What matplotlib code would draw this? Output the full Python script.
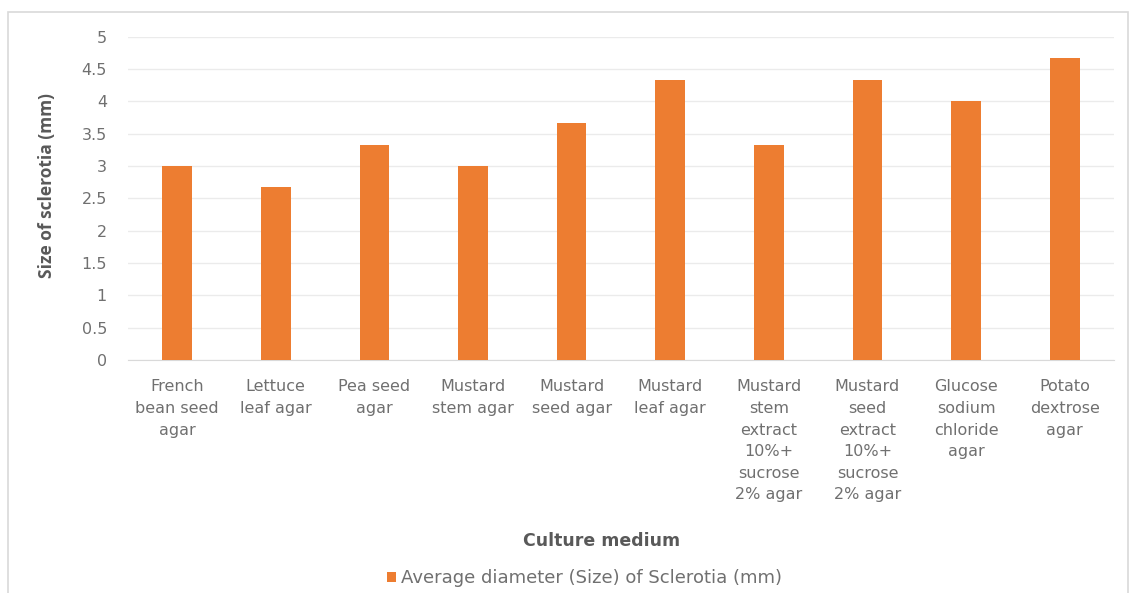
import numpy as np
import matplotlib.pyplot as plt
from matplotlib.patches import Rectangle

plt.rcParams['font.family'] = ['DejaVu Sans']

media = ["French\nbean seed\nagar", "Lettuce\nleaf agar", "Pea seed\nagar",
         "Mustard\nstem agar", "Mustard\nseed agar", "Mustard\nleaf agar",
         "Mustard\nstem\nextract\n10%+\nsucrose\n2% agar",
         "Mustard\nseed\nextract\n10%+\nsucrose\n2% agar",
         "Glucose\nsodium\nchloride\nagar", "Potato\ndextrose\nagar"]
size_mm = [3.0, 2.67, 3.33, 3.0, 3.67, 4.33, 3.33, 4.33, 4.0, 4.67]
yticks = [0, 0.5, 1, 1.5, 2, 2.5, 3, 3.5, 4, 4.5, 5]

grey = '#707070'

fig = plt.figure(figsize=(11.31, 5.93), dpi=100)
fig.patches.append(Rectangle((0.007, -0.01), 0.99, 0.99, transform=fig.transFigure,
                             fill=False, edgecolor='#d9d9d9', linewidth=1.2))
ax = fig.add_axes([0.113, 0.393, 0.872, 0.545])

x = np.arange(len(media))
ax.bar(x, size_mm, width=0.3, color='#ED7D31', zorder=3,
       label='Average diameter (Size) of Sclerotia (mm)')
ax.set_xlim(-0.5, len(media) - 0.5)
ax.set_ylim(0, 5)
ax.set_yticks(yticks)
ax.set_yticklabels([f"{t:g}" for t in yticks])
ax.set_xticks(x)
ax.set_xticklabels(media, linespacing=1.55)
ax.grid(axis='y', color='#ebebeb', linewidth=1, zorder=0)
for s in ['top', 'right', 'left']:
    ax.spines[s].set_visible(False)
ax.spines['bottom'].set_color('#d9d9d9')
ax.tick_params(axis='both', length=0, colors=grey, labelsize=11.5)
ax.tick_params(axis='y', pad=15)
ax.tick_params(axis='x', pad=14)

ax.set_ylabel('Size of sclerotia (mm)', fontsize=12.5, fontweight='bold', color='#595959',
              family='Open Sans')
ax.yaxis.set_label_coords(-0.073, 0.54)
fig.text(0.532, 0.087, 'Culture medium', ha='center', va='center', fontsize=12.5,
         fontweight='bold', color='#595959')
fig.legend(loc='center', bbox_to_anchor=(0.517, 0.025), frameon=False, fontsize=13,
           handlelength=0.5, handleheight=0.5, handletextpad=0.3, labelcolor=grey)

fig.savefig('out.png', dpi=100, facecolor='white')
